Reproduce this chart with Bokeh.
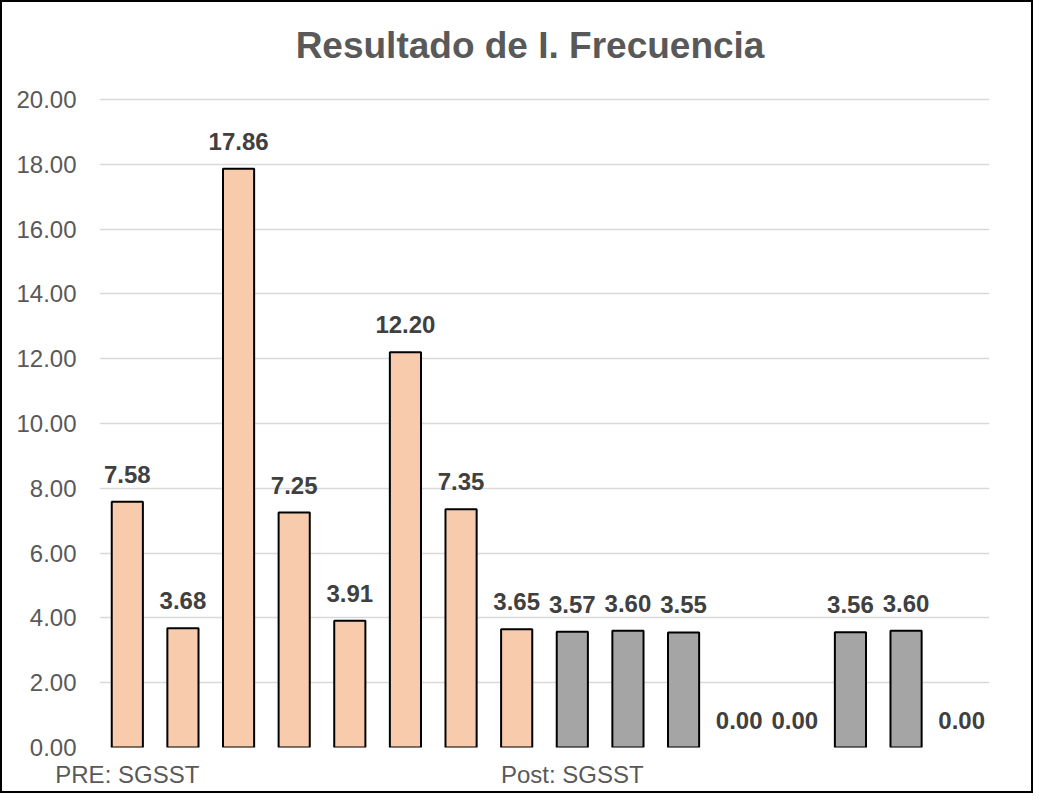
from bokeh.plotting import figure
from bokeh.models import Range1d, FixedTicker, NumeralTickFormatter, ColumnDataSource, LabelSet, Label
from bokeh.core.properties import value
from bokeh.embed import file_html
from bokeh.resources import INLINE

# ---- data ----
categories = ["PRE: SGSST", "", "", "", "", "", "", "",
              "Post: SGSST", "", "", "", "", "", "", ""]
values = [7.58, 3.68, 17.86, 7.25, 3.91, 12.20, 7.35, 3.65,
          3.57, 3.60, 3.55, 0.00, 0.00, 3.56, 3.60, 0.00]
groups = ["PRE"] * 8 + ["POST"] * 8
y_ticks = [0, 2, 4, 6, 8, 10, 12, 14, 16, 18, 20]
group_colors = {"PRE": "#F8CBAD", "POST": "#A5A5A5"}
title_text = "Resultado de I. Frecuencia"

FONT = "Liberation Sans"

xs = [i + 0.5 for i in range(len(values))]
src = ColumnDataSource(dict(
    x=xs,
    top=values,
    color=[group_colors[g] for g in groups],
    lalpha=[1.0 if v > 0 else 0.0 for v in values],
    label=["%.2f" % v for v in values],
))

W, H = 1033, 793
# frame spans the whole height above the x axis; the y range extends above
# the last tick so that the title can sit inside the frame
p = figure(width=W, height=H, output_backend="svg", toolbar_location=None,
           title=None,
           x_range=Range1d(0, len(values)), y_range=Range1d(0, 22.99),
           min_border_left=97, min_border_right=46,
           min_border_top=0, min_border_bottom=48)
p.styles = {"border": "2px solid #000000"}
p.outline_line_color = None
p.background_fill_color = "white"
p.border_fill_color = "white"

p.vbar(x="x", top="top", bottom=0, width=0.56, source=src,
       fill_color="color", line_color="black", line_width=2,
       line_alpha="lalpha")

labels = LabelSet(x="x", y="top", text="label", source=src,
                  text_align="center", text_baseline="alphabetic",
                  y_offset=19, text_font=value(FONT), text_font_size="24px",
                  text_font_style="bold", text_color="#404040")
p.add_layout(labels)

title = Label(x=7.74, y=21.67, text=title_text, text_align="center",
              text_baseline="middle", text_font=FONT, text_font_size="37px",
              text_font_style="bold", text_color="#595959")
p.add_layout(title)

# y axis
p.yaxis.ticker = FixedTicker(ticks=y_ticks)
p.yaxis.formatter = NumeralTickFormatter(format="0.00")
p.yaxis.axis_line_color = None
p.yaxis.major_tick_line_color = None
p.yaxis.minor_tick_line_color = None
p.yaxis.major_tick_out = 0
p.yaxis.major_tick_in = 0
p.yaxis.major_label_standoff = 23
p.yaxis.major_label_text_font = FONT
p.yaxis.major_label_text_font_size = "24px"
p.yaxis.major_label_text_color = "#595959"

# x axis
tick_pos = [xs[i] for i, c in enumerate(categories) if c]
p.xaxis.ticker = FixedTicker(ticks=tick_pos)
p.xaxis.major_label_overrides = {xs[i]: c for i, c in enumerate(categories) if c}
p.xaxis.axis_line_color = None
p.xaxis.major_tick_line_color = None
p.xaxis.minor_tick_line_color = None
p.xaxis.major_tick_out = 0
p.xaxis.major_tick_in = 0
p.xaxis.major_label_standoff = 13
p.xaxis.major_label_text_font = FONT
p.xaxis.major_label_text_font_size = "24px"
p.xaxis.major_label_text_color = "#595959"

p.xgrid.grid_line_color = None
p.ygrid.grid_line_color = "#D9D9D9"
p.ygrid.grid_line_width = 1.5

open("out.html", "w").write(file_html(p, INLINE))
